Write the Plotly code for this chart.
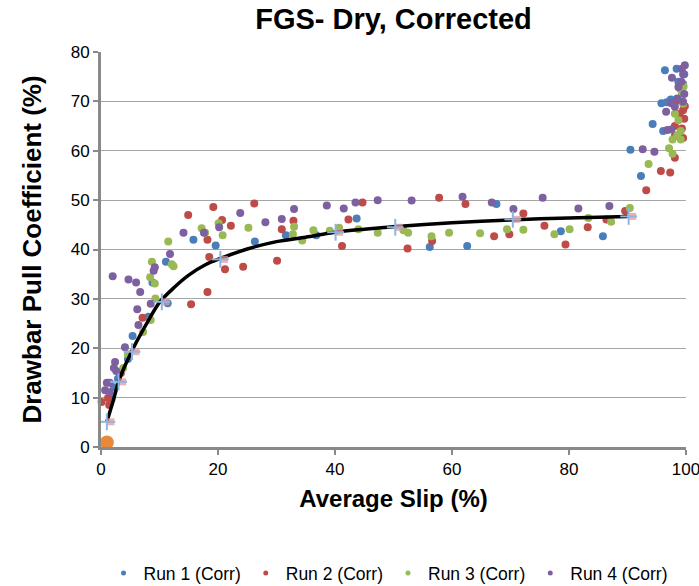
import plotly.graph_objects as go

# ---- data ----
run1_x = [5.4, 4.6, 2.9, 2.2, 1.8, 11.1, 8.8, 11.4, 8.1, 15.8, 19.6, 26.3, 31.6, 36.8, 43.7, 56.2, 62.6, 67.6,
          78.6, 85.8, 92.3, 96.4, 98.4, 98.7, 99.5, 95.8, 96.7, 97.4, 94.3, 96.1, 90.5, 99.7]
run1_y = [22.5, 17.8, 13.8, 12.1, 9.7, 37.5, 33.3, 29.1, 26.4, 42.0, 40.8, 41.6, 42.9, 42.9, 46.3, 40.5, 40.7, 49.2,
          43.7, 42.7, 54.9, 76.3, 76.6, 74.0, 73.5, 69.6, 69.8, 70.4, 65.4, 64.0, 60.2, 75.5]

run2_x = [3.4, 1.2, 0.1, 1.4, 18.2, 15.4, 7.1, 14.9, 18.2, 18.5, 19.2, 26.2, 44.7, 57.8, 20.7, 22.2, 30.9, 32.9,
          42.3, 41.2, 52.4, 56.6, 21.2, 24.3, 30.1, 62.3, 72.2, 89.6, 86.4, 83.2, 75.8, 79.4, 67.2, 69.8,
          95.7, 97.3, 93.2, 98.7, 99.5, 98.9, 99.7, 98.1, 99.3, 98.1, 99.5, 98.1, 99.8]
run2_y = [15.0, 9.9, 9.1, 8.5, 31.4, 28.9, 26.2, 47.0, 42.0, 38.5, 48.6, 49.3, 49.5, 50.5, 46.0, 44.8, 44.1, 45.8,
          46.1, 40.7, 40.2, 41.7, 36.0, 36.5, 37.7, 49.2, 47.3, 47.8, 46.1, 44.5, 44.8, 41.0, 42.7, 43.1,
          55.9, 55.6, 52.0, 70.2, 68.2, 67.5, 66.5, 65.0, 64.5, 63.0, 62.6, 58.6, 69.0]

run3_x = [7.2, 4.6, 3.8, 8.7, 12.1, 12.4, 8.4, 9.2, 9.3, 8.5, 17.2, 17.8, 11.5, 20.1, 20.8, 25.2, 33.0, 32.8,
          34.4, 36.3, 39.1, 40.7, 44.0, 47.3, 51.7, 52.5, 56.5, 59.5, 64.8, 69.4, 72.2, 77.5, 80.1, 83.3,
          87.2, 90.4, 99.3, 99.0, 99.5, 98.1, 98.7, 99.1, 98.5, 97.7, 99.1, 97.1, 97.7, 93.6, 99.6]
run3_y = [23.3, 18.8, 16.0, 37.5, 37.0, 36.6, 34.4, 33.1, 30.1, 25.7, 44.3, 43.4, 41.6, 45.3, 42.9, 44.4, 44.6, 43.1,
          41.8, 43.9, 43.8, 44.4, 44.1, 43.4, 43.9, 43.4, 42.7, 43.4, 43.3, 44.1, 44.0, 43.1, 44.1, 46.4,
          45.6, 48.4, 71.6, 72.5, 69.5, 67.5, 66.2, 64.0, 63.2, 62.3, 62.3, 60.5, 59.4, 57.3, 73.0]

run4_x = [4.1, 2.4, 2.2, 2.6, 1.0, 1.5, 0.7, 1.5, 11.8, 9.2, 9.0, 2.0, 4.7, 6.0, 6.7, 8.5, 6.2, 6.4, 14.1, 17.6,
          20.2, 23.8, 28.1, 30.9, 33.0, 38.6, 41.5, 43.5, 47.3, 53.1, 61.8, 66.8, 70.5, 75.5, 81.6, 86.9,
          99.8, 99.3, 97.6, 98.7, 99.5, 99.2, 97.5, 98.5, 99.5, 98.1, 96.6, 97.5, 96.8, 92.6, 94.6, 99.7]
run4_y = [20.2, 17.2, 16.0, 15.4, 13.0, 13.0, 11.5, 11.1, 39.1, 36.4, 35.7, 34.6, 33.9, 33.3, 31.4, 29.0, 27.9, 24.7,
          43.4, 43.4, 44.5, 47.4, 45.5, 46.2, 48.2, 48.9, 48.3, 49.5, 50.0, 49.9, 50.7, 49.5, 48.2, 50.5,
          48.3, 48.8, 77.3, 76.6, 74.8, 72.9, 75.5, 74.0, 69.6, 70.6, 69.9, 68.9, 67.9, 64.3, 64.2, 60.3,
          59.8, 71.5]

fit_x = [1, 2, 3, 4, 5.3, 7, 10, 12.5, 15, 18, 20, 25, 30, 35, 40, 45, 50, 60, 70, 80, 90]
fit_y = [5.1, 9.0, 13.2, 16.2, 19.5, 23.3, 29.3, 32.3, 34.8, 37.0, 38.0, 40.1, 41.6, 42.5, 43.5, 44.1, 44.6,
         45.4, 46.0, 46.4, 46.7]

mark_x = [1.0, 3.0, 5.3, 10.4, 20.4, 40.1, 50.3, 70.4, 90.2]
mark_y = [5.1, 13.2, 19.3, 29.4, 38.0, 43.5, 44.5, 46.1, 46.7]
sq_dx = 0.7

orig_x = [1.0]
orig_y = [0.9]

names = ["Run 1 (Corr)", "Run 2 (Corr)", "Run 3 (Corr)", "Run 4 (Corr)"]
colors = ["#4A7EBB", "#BE4B48", "#98B954", "#7D60A0"]

FONT = "Arial, 'Liberation Sans', sans-serif"

fig = go.Figure()
for nm, c, xs, ys in zip(names, colors,
                         [run1_x, run2_x, run3_x, run4_x],
                         [run1_y, run2_y, run3_y, run4_y]):
    fig.add_trace(go.Scatter(x=xs, y=ys, mode="markers", name=nm, cliponaxis=False, showlegend=False,
                             marker=dict(color=c, size=8, line=dict(width=0))))

fig.add_trace(go.Scatter(x=fit_x, y=fit_y, mode="lines", showlegend=False,
                         line=dict(color="black", width=3.5, shape="spline", smoothing=0.8)))

fig.add_trace(go.Scatter(x=[v + sq_dx for v in mark_x], y=mark_y, mode="markers", showlegend=False,
                         marker=dict(symbol="square", color="rgba(230,150,150,0.75)", size=7,
                                     line=dict(width=0))))
fig.add_trace(go.Scatter(x=mark_x, y=mark_y, mode="markers", showlegend=False,
                         marker=dict(symbol="line-ns", size=12, line=dict(color="#8EB4E3", width=2))))
fig.add_trace(go.Scatter(x=mark_x, y=mark_y, mode="markers", showlegend=False,
                         marker=dict(symbol="line-ew", size=12, line=dict(color="#8EB4E3", width=2))))

fig.add_trace(go.Scatter(x=orig_x, y=orig_y, mode="markers", showlegend=False, cliponaxis=False,
                         marker=dict(color="#E8893A", size=14, line=dict(width=0))))

# legend entries (small dots like the reference legend)
for nm, c in zip(names, colors):
    fig.add_trace(go.Scatter(x=[None], y=[None], mode="markers", name=nm,
                             marker=dict(color=c, size=5, line=dict(width=0))))

fig.update_layout(
    width=699, height=586,
    margin=dict(l=101, r=13, t=52, b=139),
    paper_bgcolor="white", plot_bgcolor="white",
    font=dict(family=FONT, color="black", size=16),
    title=dict(text="<b>FGS- Dry, Corrected</b>", x=0.5, xref="paper", xanchor="center",
               y=1 - 19 / 586, yanchor="middle", font=dict(size=29, family=FONT, color="black")),
    showlegend=True,
    legend=dict(orientation="h", xref="container", x=388 / 699, xanchor="center",
                yref="container", y=1 - 573 / 586, yanchor="middle",
                font=dict(size=17.5, family=FONT), bgcolor="rgba(0,0,0,0)", itemwidth=30,
                tracegroupgap=0),
)
fig.update_xaxes(range=[0, 100], tickvals=[0, 20, 40, 60, 80, 100], showgrid=False, zeroline=False,
                 automargin=False, ticklabeloverflow="allow",
                 showline=True, linecolor="#898989", linewidth=3, ticks="outside", ticklen=5,
                 tickcolor="#898989", tickwidth=2, tickfont=dict(size=17, family=FONT),
                 title=dict(text="<b>Average Slip (%)</b>", font=dict(size=24, family=FONT), standoff=12))
fig.update_yaxes(range=[0, 80], tickvals=list(range(0, 81, 10)), showgrid=True, gridcolor="#A6A6A6",
                 gridwidth=1, zeroline=False, automargin=False, ticklabeloverflow="allow",
                 showline=True, linecolor="#898989", linewidth=3, ticks="outside", ticklen=5,
                 tickcolor="#898989", tickwidth=2, tickfont=dict(size=17, family=FONT),
                 title=dict(text="<b>Drawbar Pull Coefficient (%)</b>", font=dict(size=26, family=FONT),
                            standoff=22))

fig.write_html("out.html")
